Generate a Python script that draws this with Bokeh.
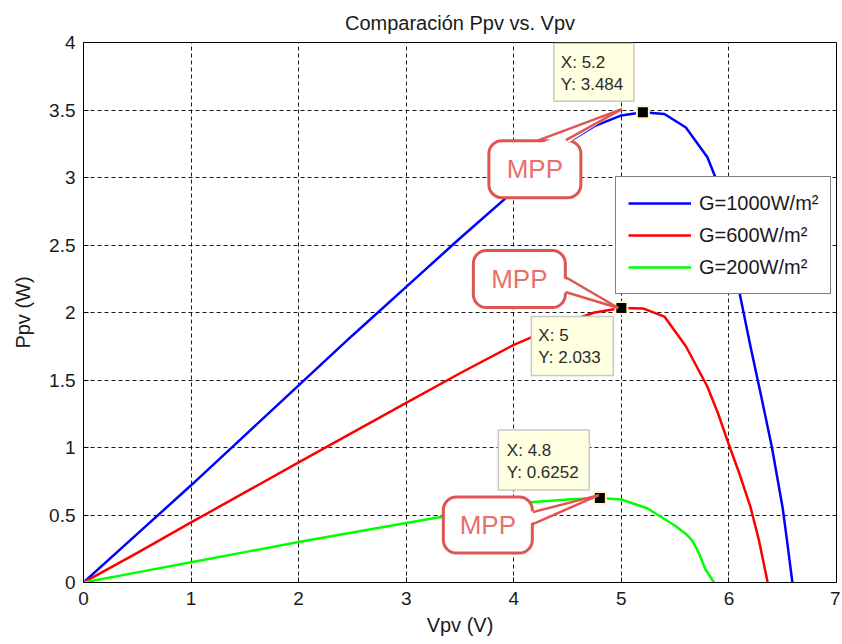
from bokeh.plotting import figure
from bokeh.models import Range1d, FixedTicker
from bokeh.core.properties import value
from bokeh.embed import file_html
from bokeh.resources import INLINE

# ---------------- data ----------------
vpv_1000 = [0, 0.5, 1, 1.5, 2, 2.5, 3, 3.5, 4, 4.5, 4.75, 5.0, 5.2, 5.4, 5.6, 5.8, 5.9, 6.0, 6.1, 6.2, 6.3, 6.4, 6.5, 6.54, 6.59]
ppv_1000 = [0, 0.36, 0.72, 1.09, 1.46, 1.83, 2.19, 2.55, 2.9, 3.26, 3.38, 3.46, 3.484, 3.47, 3.37, 3.15, 2.95, 2.6, 2.14, 1.75, 1.38, 1.0, 0.55, 0.31, 0]

vpv_600 = [0, 0.5, 1, 1.5, 2, 2.5, 3, 3.5, 4, 4.5, 4.75, 5.0, 5.2, 5.4, 5.6, 5.8, 5.9, 6.0, 6.1, 6.2, 6.28, 6.36]
ppv_600 = [0, 0.22, 0.445, 0.667, 0.89, 1.11, 1.33, 1.55, 1.76, 1.93, 2.0, 2.033, 2.03, 1.97, 1.75, 1.45, 1.25, 1.02, 0.8, 0.56, 0.31, 0]

vpv_200 = [0, 0.5, 1, 1.5, 2, 2.5, 3, 3.5, 4, 4.5, 4.8, 5.0, 5.24, 5.4, 5.5, 5.6, 5.66, 5.72, 5.78, 5.86]
ppv_200 = [0, 0.075, 0.15, 0.225, 0.3, 0.37, 0.44, 0.51, 0.585, 0.615, 0.6252, 0.615, 0.55, 0.47, 0.42, 0.36, 0.31, 0.22, 0.1, 0]

series_labels = ["G=1000W/m\u00b2", "G=600W/m\u00b2", "G=200W/m\u00b2"]
series_colors = ["#0000ff", "#ff0000", "#00ff00"]

mpp_v = [5.2, 5.0, 4.8]
mpp_p = [3.484, 2.033, 0.6252]

x_ticks = [0, 1, 2, 3, 4, 5, 6, 7]
y_ticks = [0, 0.5, 1, 1.5, 2, 2.5, 3, 3.5, 4]
y_tick_labels = ["0", "0.5", "1", "1.5", "2", "2.5", "3", "3.5", "4"]

title_text = "Comparaci\u00f3n Ppv vs. Vpv"

# ---------------- layout / style ----------------
FONT = "Liberation Sans"
X0, X1, Y0, Y1 = 0, 7, 0, 4
FW, FH = 753, 540
SX = FW / (X1 - X0)
SY = FH / (Y1 - Y0)

p = figure(width=840, height=636, frame_width=FW, frame_height=FH,
           x_range=Range1d(X0, X1), y_range=Range1d(Y0, Y1),
           output_backend="svg", toolbar_location=None,
           min_border_left=83, min_border_right=4, min_border_top=42, min_border_bottom=54,
           title=title_text)
p.background_fill_color = "white"
p.border_fill_color = "white"
p.outline_line_color = "black"
p.outline_line_width = 1

p.title.align = "center"
p.title.text_font = FONT
p.title.text_font_size = "20px"
p.title.text_font_style = "normal"
p.title.text_color = "#1a1a1a"
p.title.standoff = 18

for ax in (p.xaxis[0], p.yaxis[0]):
    ax.axis_line_color = "black"
    ax.major_tick_line_color = "black"
    ax.major_tick_in = 5
    ax.major_tick_out = 0
    ax.minor_tick_line_color = None
    ax.major_label_text_font = FONT
    ax.major_label_text_font_size = "19px"
    ax.major_label_text_color = "#1a1a1a"
    ax.axis_label_text_font = FONT
    ax.axis_label_text_font_size = "20px"
    ax.axis_label_text_font_style = "normal"
    ax.axis_label_text_color = "#1a1a1a"

p.xaxis.axis_label = "Vpv (V)"
p.yaxis.axis_label = "Ppv (W)"
p.xaxis.ticker = FixedTicker(ticks=x_ticks)
p.yaxis.ticker = FixedTicker(ticks=y_ticks)
p.yaxis.major_label_overrides = {t: l for t, l in zip(y_ticks, y_tick_labels)}
p.xaxis.major_label_standoff = 9
p.yaxis.major_label_standoff = 8
p.xaxis.axis_label_standoff = 6
p.yaxis.axis_label_standoff = 12

for g in (p.xgrid[0], p.ygrid[0]):
    g.grid_line_color = "black"
    g.grid_line_dash = "4 3"
    g.grid_line_width = 1
    g.grid_line_alpha = 0.9

# ---------------- curves ----------------
series = [(vpv_1000, ppv_1000), (vpv_600, ppv_600), (vpv_200, ppv_200)]
for (xs, ys), lab, col in zip(series, series_labels, series_colors):
    p.line(xs, ys, line_color=col, line_width=2.5, legend_label=lab)

# ---------------- MPP markers ----------------
p.scatter(mpp_v, mpp_p, marker="square", size=12, fill_color="black",
          line_color="#fff9c8", line_width=2)


def to_data(v, pw, dx, dy):
    """screen pixel offset (dx right, dy down) from a data point -> data coords"""
    return v + dx / SX, pw - dy / SY


# data tips: box centre offset, box size, text left offset, first line offset
tip_box = [(-49, -40, 80, 58), (-49, 38, 82, 59), (-56, -38, 91, 60)]
tip_text = [(-82, -50), (-83, 27), (-93, -48)]
LINE_GAP = 22

for v, pw, (bdx, bdy, bw, bh), (tdx, tdy) in zip(mpp_v, mpp_p, tip_box, tip_text):
    cx, cy = to_data(v, pw, bdx, bdy)
    p.rect([cx], [cy], width=bw, height=bh, width_units="screen", height_units="screen",
           fill_color="#ffffe1", line_color="#c8c8c8", line_width=1.5)
    p.text([v, v], [pw, pw], text=[f"X: {v:g}", f"Y: {pw:g}"],
           x_offset=tdx, y_offset=[tdy, tdy + LINE_GAP],
           text_font=value(FONT), text_font_size=value("17px"),
           text_color="#2b2b2b", text_baseline="middle", text_align="left")

# MPP callouts: box centre offset, box size, tail base points, tail tip, inset direction
call_box = [(-108, 57, 92, 57), (-102, -29, 92, 57), (-112, 27, 89, 56)]
call_tail = [
    ((-104, 28), (-77, 28), (-21, -3), (0, 4)),
    ((-56, -31), (-56, -16), (-3, 0), (-4, 0)),
    ((-67, 14), (-67, 26), (-1, -3), (-4, 0)),
]
RED = "#df5551"
for v, pw, (bdx, bdy, bw, bh), (b1, b2, tip, ins) in zip(mpp_v, mpp_p, call_box, call_tail):
    cx, cy = to_data(v, pw, bdx, bdy)
    p.rect([cx], [cy], width=bw, height=bh, width_units="screen", height_units="screen",
           fill_color="white", line_color=RED, line_width=3, border_radius=13)
    # white wedge covering the box border at the tail base
    pts = [(b1[0] + ins[0], b1[1] + ins[1]), tip, (b2[0] + ins[0], b2[1] + ins[1])]
    px_ = [to_data(v, pw, a, b)[0] for a, b in pts]
    py_ = [to_data(v, pw, a, b)[1] for a, b in pts]
    p.patch(px_, py_, fill_color="white", line_color=None)
    for b in (b1, b2):
        xa, ya = to_data(v, pw, *b)
        xb, yb = to_data(v, pw, *tip)
        p.line([xa, xb], [ya, yb], line_color=RED, line_width=2.5)
    p.text([cx], [cy], text=["MPP"], text_font=value(FONT), text_font_size=value("26px"),
           text_color="#e8706a", text_align="center", text_baseline="middle")

# ---------------- legend ----------------
lg = p.legend[0]
lg.location = (532, 288)
lg.border_line_color = "black"
lg.border_line_width = 1
lg.background_fill_color = "white"
lg.background_fill_alpha = 1
lg.label_text_font = FONT
lg.label_text_font_size = "20px"
lg.label_text_color = "#1a1a1a"
lg.glyph_width = 63
lg.glyph_height = 28
lg.label_height = 28
lg.spacing = 4
lg.padding = 12
lg.margin = 0
lg.label_standoff = 8

open("out.html", "w").write(file_html(p, INLINE))
